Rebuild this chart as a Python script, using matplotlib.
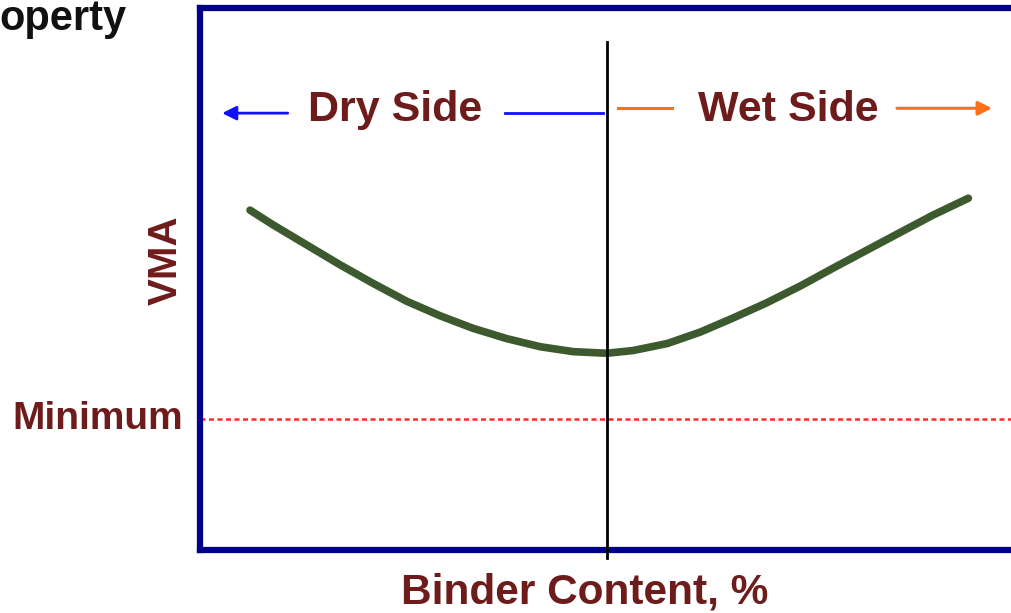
"""
plot.py - VMA vs binder content concept sketch (dry side / wet side).
"""

import matplotlib
matplotlib.use("Agg")
import matplotlib.pyplot as plt

# ---------------------------------------------------------------------------
# Data (conceptual units: binder content 0-100, VMA 0-100)
# ---------------------------------------------------------------------------
binder = [6.1, 8.9, 13.0, 17.1, 21.1, 25.2, 29.3, 33.3, 37.4, 41.5, 45.5, 49.6,
          52.8, 57.0, 61.0, 65.0, 69.1, 73.2, 77.2, 81.3, 85.4, 89.4, 93.7]
vma = [62.7, 60.0, 56.3, 52.6, 49.2, 45.9, 43.2, 40.9, 39.0, 37.5, 36.6, 36.3,
       36.8, 38.1, 40.2, 42.8, 45.6, 48.7, 52.0, 55.3, 58.6, 61.8, 64.9]

optimum_binder = 49.6
vma_minimum = 24.2

side_labels = ["Dry Side", "Wet Side"]
side_label_x = [23.8, 71.7]
side_label_y = 81.2

TEXT_RED = "#6E1B1B"
NAVY = "#00008B"
FONT = "Liberation Sans"

fig = plt.figure(figsize=(10.11, 6.13), dpi=100)
# axes box: left spine at ~200 px, right spine falls just off the canvas
ax = fig.add_axes([200 / 1011, 63 / 613, 820 / 1011, 542 / 613])
ax.set_xlim(0, 100)
ax.set_ylim(0, 100)
ax.set_xticks([])
ax.set_yticks([])
for sp in ax.spines.values():
    sp.set_color(NAVY)
    sp.set_linewidth(4.5)

# VMA curve
ax.plot(binder, vma, color="#3D5A2F", lw=5.5, solid_capstyle="round",
        solid_joinstyle="round", zorder=3)

# optimum binder content line
ax.plot([optimum_binder, optimum_binder], [-1.5, 93.7], color="black", lw=2,
        clip_on=False, zorder=4)

# minimum VMA requirement
ax.axhline(vma_minimum, color="#FF2A2A", lw=1.8, dashes=(2, 1.4), zorder=2)

# dry side / wet side arrows
arrow = "-|>,head_length=0.6,head_width=0.3"
ax.annotate("", xy=(2.7, side_label_y - 0.6), xytext=(10.7, side_label_y - 0.6),
            arrowprops=dict(arrowstyle=arrow, color="#1010FF", lw=2,
                            mutation_scale=14, shrinkA=0, shrinkB=0))
ax.plot([37.2, 49.1], [side_label_y - 0.6] * 2, color="#1010FF", lw=2)
ax.plot([51.0, 57.6], [side_label_y + 0.3] * 2, color="#FF7016", lw=2.2)
ax.annotate("", xy=(96.6, side_label_y + 0.3), xytext=(85.0, side_label_y + 0.3),
            arrowprops=dict(arrowstyle=arrow, color="#FF7016", lw=2.2,
                            mutation_scale=14, shrinkA=0, shrinkB=0))

for lab, x in zip(side_labels, side_label_x):
    ax.text(x, side_label_y, lab, ha="center", va="center", color=TEXT_RED,
            fontsize=31, fontweight="bold", family=FONT)

# axis labels
ax.text(-2.1, vma_minimum, "Minimum", ha="right", va="center", color=TEXT_RED,
        fontsize=28, fontweight="bold", family=FONT)
ax.text(-4.2, 53.5, "VMA", ha="center", va="center", rotation=90,
        color=TEXT_RED, fontsize=29, fontweight="bold", family=FONT)
fig.text(585 / 1011, 1 - 593 / 613, "Binder Content, %", ha="center",
         va="center", color=TEXT_RED, fontsize=30.5, fontweight="bold",
         family=FONT)
# header cut off at the left edge of the source slide
fig.text(-1 / 1011, 1 - 30 / 613, "operty", ha="left", va="baseline",
         color="#111111", fontsize=30, fontweight="bold", family=FONT)

fig.savefig("out.png", dpi=100)
